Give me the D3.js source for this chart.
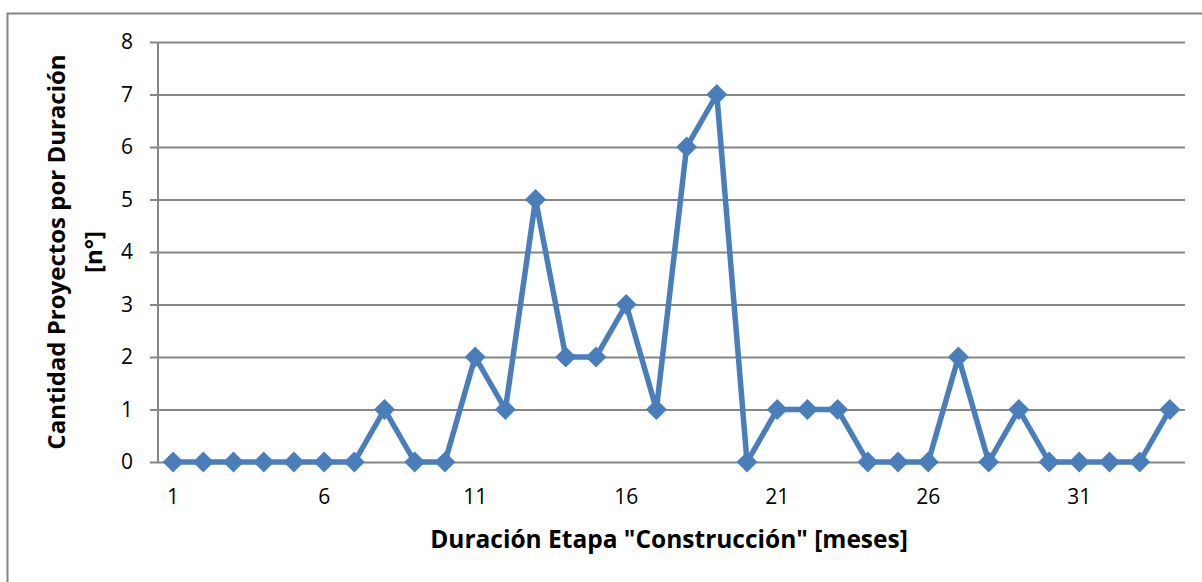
<!DOCTYPE html>
<html>
<head>
<meta charset="utf-8">
<script src="https://cdn.jsdelivr.net/npm/d3@7"></script>
<style>
  html, body { margin: 0; padding: 0; background: #fff; }
  svg { display: block; }
  text { font-family: "Open Sans", Lato, sans-serif; fill: #000; }
</style>
</head>
<body>
<svg id="chart" width="1202" height="582"></svg>
<script>
// Duration of the construction stage (months) and number of projects per duration
const months = d3.range(1, 35);
const projectCounts = [0, 0, 0, 0, 0, 0, 0, 1, 0, 0,
                       2, 1, 5, 2, 2, 3, 1, 6, 7, 0,
                       1, 1, 1, 0, 0, 0, 2, 0, 1, 0,
                       0, 0, 0, 1];
const xTickLabels = [1, 6, 11, 16, 21, 26, 31];
const yTicks = [0, 1, 2, 3, 4, 5, 6, 7, 8];
const xTitle = 'Duración Etapa "Construcción" [meses]';
const yTitleLines = ["Cantidad Proyectos por Duración", "[n°]"];

const svg = d3.select("#chart");
const plot = { left: 158, right: 1185, top: 42, bottom: 462 };
const lineColor = "#4A7EBB";
const gridColor = "#868686";

// Outer chart frame
svg.append("rect")
  .attr("x", 7.5).attr("y", 13.5)
  .attr("width", 1200).attr("height", 600)
  .attr("fill", "none").attr("stroke", gridColor).attr("stroke-width", 2);

const x = d3.scaleBand().domain(months).range([plot.left, plot.right]);
const y = d3.scaleLinear().domain([0, 8]).range([plot.bottom, plot.top]);

// Horizontal gridlines with short ticks to the left of the axis
const yAxis = d3.axisLeft(y).tickValues(yTicks).tickSize(-(plot.right - plot.left)).tickPadding(25);
const gy = svg.append("g").attr("transform", `translate(${plot.left},0)`).call(yAxis);
gy.select(".domain").remove();
gy.selectAll(".tick line").attr("stroke", gridColor).attr("stroke-width", 2)
  .attr("x1", -8);
gy.selectAll(".tick text").style("font-size", "21px").attr("fill", "#000")
  .attr("x", -25);

// Vertical axis line
svg.append("line")
  .attr("x1", plot.left).attr("x2", plot.left)
  .attr("y1", plot.top).attr("y2", plot.bottom)
  .attr("stroke", gridColor).attr("stroke-width", 2);

// Category labels along the bottom, every fifth month
const xAxis = d3.axisBottom(x).tickValues(xTickLabels).tickSize(0);
const gx = svg.append("g").attr("transform", `translate(0,${plot.bottom})`).call(xAxis);
gx.select(".domain").remove();
gx.selectAll(".tick text").style("font-size", "21px").attr("fill", "#000")
  .attr("y", 42).attr("dy", 0);

// Series line
const cx = d => x(d) + x.bandwidth() / 2;
const data = months.map((m, i) => ({ m, v: projectCounts[i] }));
svg.append("path")
  .datum(data)
  .attr("fill", "none")
  .attr("stroke", lineColor)
  .attr("stroke-width", 5.5)
  .attr("stroke-linejoin", "round")
  .attr("d", d3.line().x(d => cx(d.m)).y(d => y(d.v)));

// Diamond markers
svg.append("g").selectAll("path")
  .data(data)
  .join("path")
  .attr("transform", d => `translate(${cx(d.m)},${y(d.v)})`)
  .attr("d", "M0,-10.5L10.5,0L0,10.5L-10.5,0Z")
  .attr("fill", lineColor);

// Axis titles
svg.append("text")
  .attr("x", 669).attr("y", 548)
  .attr("text-anchor", "middle")
  .style("font-size", "24.5px").style("font-weight", "bold")
  .text(xTitle);

const yTitle = svg.append("text")
  .attr("transform", "translate(65,252) rotate(-90)")
  .attr("text-anchor", "middle")
  .style("font-size", "24px").style("font-weight", "bold");
yTitleLines.forEach((line, i) => {
  yTitle.append("tspan").attr("x", 0).attr("dy", i === 0 ? 0 : 37).text(line);
});
</script>
</body>
</html>
